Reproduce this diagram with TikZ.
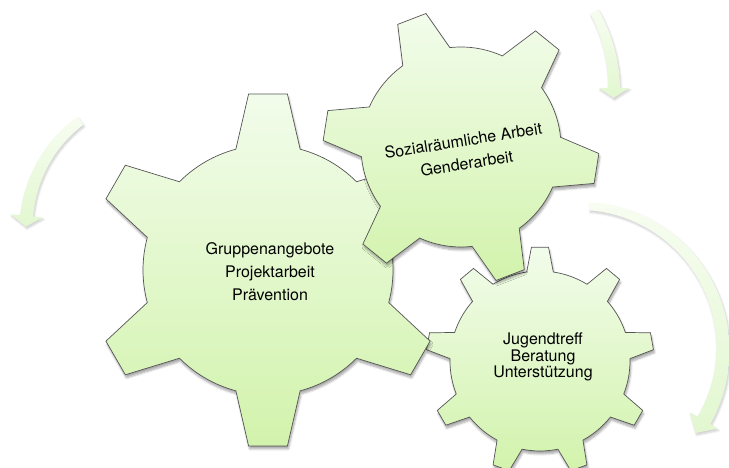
\documentclass[tikz,border=0pt]{standalone}
\usepackage{fontspec}
\setmainfont{TeX Gyre Heros}
\usetikzlibrary{shadows.blur}

\definecolor{gearlight}{HTML}{F2FCEB}
\definecolor{geardark}{HTML}{D2F3AC}
\definecolor{gearline}{HTML}{555555}
\definecolor{turnlight}{HTML}{F7FDF1}
\definecolor{turndark}{HTML}{E2F7D0}

% center, body radius, tip radius, teeth, first tooth angle, base half-angle, tip half-angle
\newcommand{\drawgear}[7]{%
  \path[gearbody, shift={(#1)}] ({#5-#6}:#2)
    \foreach \k in {1,...,#4}{
      -- ({#5+(\k-1)*360/#4-#7}:#3) -- ({#5+(\k-1)*360/#4+#7}:#3)
      -- ({#5+(\k-1)*360/#4+#6}:#2)
      arc[start angle={#5+(\k-1)*360/#4+#6}, end angle={#5+\k*360/#4-#6}, radius=#2pt]
    } -- cycle;
}

% center, radius, tail angle, head angle, tip angle, tail width, head width, head half-width
\newcommand{\drawturn}[8]{%
  \path[turnarrow, shift={(#1)}]
    plot[domain=0:1, samples=40] ({#3+\x*(#4-#3)}:{#2+(#6+\x*(#7-#6))/2})
    -- ({#4}:{#2+#8}) -- ({#5}:#2) -- ({#4}:{#2-#8})
    -- plot[domain=1:0, samples=40] ({#3+\x*(#4-#3)}:{#2-(#6+\x*(#7-#6))/2})
    -- cycle;
}

\tikzset{
  gearbody/.style={draw=gearline, line width=0.7pt, top color=gearlight, bottom color=geardark,
    blur shadow={shadow xshift=1pt, shadow yshift=-3pt, shadow opacity=35, shadow blur steps=6}},
  turnarrow/.style={top color=turnlight, bottom color=turndark,
    blur shadow={shadow xshift=1pt, shadow yshift=-2pt, shadow opacity=20, shadow blur steps=6}},
  gearlabel/.style={align=center, font=\fontsize{16}{23}\selectfont}
}

\begin{document}
\begin{tikzpicture}[x=1pt, y=1pt]
  \clip (0,0) rectangle (729,468);

  % arrows
  \drawturn{161,239}{135}{126.6}{174.4}{179}{10}{13}{16}
  \drawturn{456,380}{158}{29}{0}{-3.6}{9}{12}{15}
  \drawturn{580,119}{143}{86.2}{-30}{-36}{8}{15}{16}

  % gears, back to front
  \drawgear{540,107}{90}{114}{9}{90}{8.5}{4.3}
  \drawgear{268,198}{125}{177}{6}{30}{14.9}{6.3}
  \drawgear{461,321}{100}{138}{6}{-9}{14.6}{6.3}

  \node[gearlabel] (groups) at (270,196) {Gruppenangebote\\Projektarbeit\\Prävention};
  \node[gearlabel, rotate=9] (space) at (465,316) {Sozialräumliche Arbeit\\Genderarbeit};
  \node[gearlabel, font=\fontsize{16}{15}\selectfont] (youth) at (543,111) {Jugendtreff\\Beratung\\Unterstützung};
\end{tikzpicture}
\end{document}
